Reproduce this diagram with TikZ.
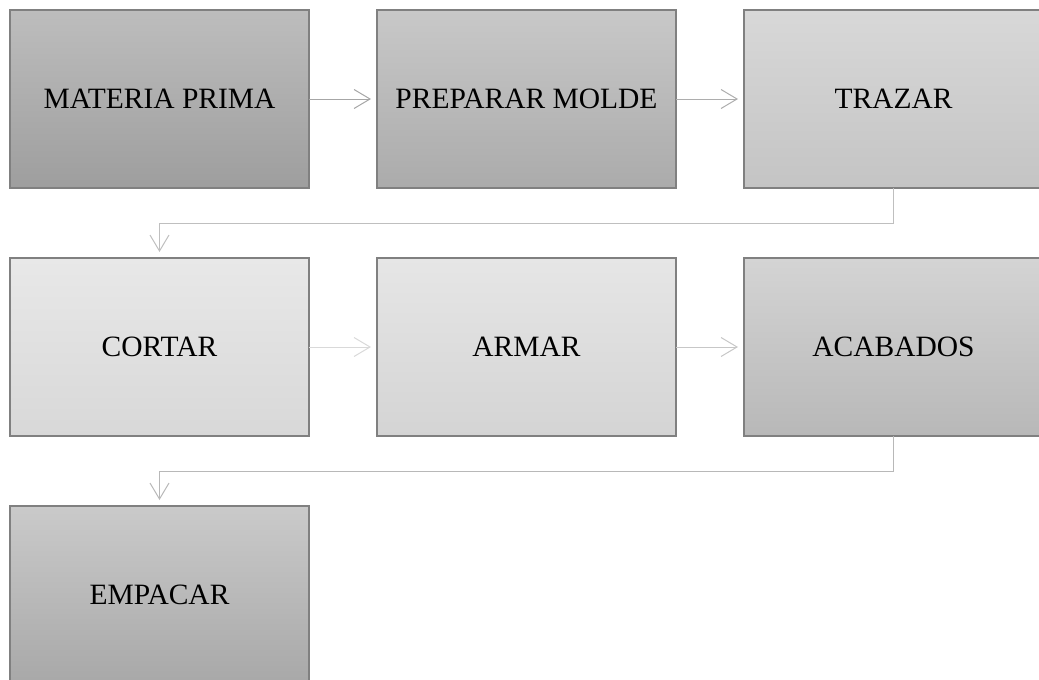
\documentclass[tikz,border=0pt]{standalone}
\usepackage{fontspec}
\setmainfont{Liberation Serif}
\usetikzlibrary{arrows.meta,positioning}
\tikzset{
  proc/.style={rectangle, draw=black!50, line width=1.2pt, minimum width=299pt,
               minimum height=178pt, inner sep=0pt, outer sep=0pt, align=center,
               font=\fontsize{29.5}{34}\selectfont},
  ar/.style  ={-{Straight Barb[length=16pt, width=19pt, line width=1pt]},
               line width=1pt, shorten >=6pt},
}
\definecolor{gA}{HTML}{BDBDBD}\definecolor{gAb}{HTML}{9E9E9E}
\definecolor{gB}{HTML}{C8C8C8}\definecolor{gBb}{HTML}{ABABAB}
\definecolor{gC}{HTML}{D8D8D8}\definecolor{gCb}{HTML}{C4C4C4}
\definecolor{gD}{HTML}{E8E8E8}\definecolor{gDb}{HTML}{D8D8D8}
\definecolor{gE}{HTML}{E6E6E6}\definecolor{gEb}{HTML}{D4D4D4}
\definecolor{gF}{HTML}{D4D4D4}\definecolor{gFb}{HTML}{B8B8B8}
\definecolor{gG}{HTML}{CACACA}\definecolor{gGb}{HTML}{A8A8A8}

\begin{document}
\begin{tikzpicture}[node distance=70pt and 68pt]
\useasboundingbox (0,0) rectangle (1039pt,-680pt);
\clip (0,0) rectangle (1039pt,-680pt);

% first row
\node[proc, top color=gA, bottom color=gAb, anchor=north west] (mp) at (10pt,-10pt) {MATERIA PRIMA};
\node[proc, top color=gB, bottom color=gBb, right=of mp] (pm) {PREPARAR MOLDE};
\node[proc, top color=gC, bottom color=gCb, right=of pm] (tr) {TRAZAR};

% second row
\node[proc, top color=gD, bottom color=gDb, below=of mp] (co) {CORTAR};
\node[proc, top color=gE, bottom color=gEb, right=of co] (ar) {ARMAR};
\node[proc, top color=gF, bottom color=gFb, right=of ar] (ac) {ACABADOS};

% third row
\node[proc, top color=gG, bottom color=gGb, below=of co] (em) {EMPACAR};

\draw[ar, draw=black!35] (mp) -- (pm);
\draw[ar, draw=black!32] (pm) -- (tr);
\draw[ar, draw=black!25] (tr.south) -- ++(0,-35pt) -| (co.north);
\draw[ar, draw=black!15] (co) -- (ar);
\draw[ar, draw=black!22] (ar) -- (ac);
\draw[ar, draw=black!28] (ac.south) -- ++(0,-35pt) -| (em.north);

\end{tikzpicture}
\end{document}
